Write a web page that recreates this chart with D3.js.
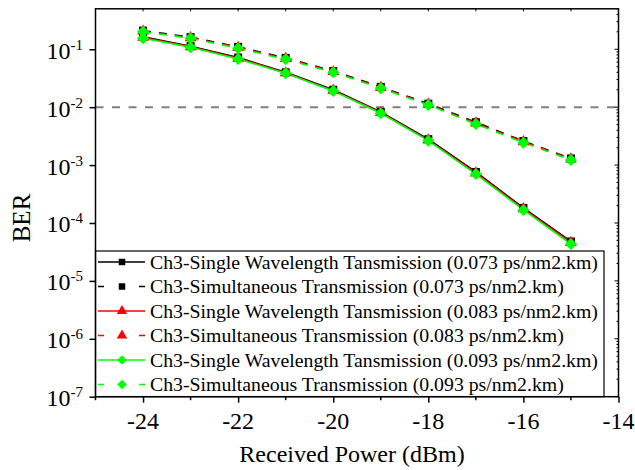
<!DOCTYPE html>
<html>
<head>
<meta charset="utf-8">
<script src="https://cdn.jsdelivr.net/npm/d3@7"></script>
<style>
  body { margin: 0; background: #fff; }
  svg { display: block; font-family: "Liberation Serif", "Times New Roman", serif; }
</style>
</head>
<body>
<script>
// received power (dBm)
var power = [-24, -23, -22, -21, -20, -19, -18, -17, -16, -15];

// BER, single wavelength transmission
var single073 = [0.165, 0.113, 0.072, 0.040, 0.020, 0.0083, 0.0028, 7.6e-4, 1.82e-4, 4.8e-5];
var single083 = [0.160, 0.110, 0.070, 0.039, 0.0195, 0.0081, 0.0027, 7.3e-4, 1.75e-4, 4.6e-5];
var single093 = [0.155, 0.108, 0.068, 0.0384, 0.019, 0.00785, 0.00264, 7.0e-4, 1.68e-4, 4.34e-5];

// BER, simultaneous transmission
var simul073 = [0.210, 0.162, 0.110, 0.071, 0.042, 0.0224, 0.0115, 0.0055, 0.0026, 0.0013];
var simul083 = [0.205, 0.158, 0.107, 0.069, 0.041, 0.0218, 0.0112, 0.0053, 0.00253, 0.00127];
var simul093 = [0.200, 0.155, 0.104, 0.067, 0.040, 0.0212, 0.0109, 0.0051, 0.00244, 0.00122];

var seriesNames = [
    "Ch3-Single Wavelength Tansmission (0.073 ps/nm2.km)",
    "Ch3-Simultaneous Transmission (0.073 ps/nm2.km)",
    "Ch3-Single Wavelength Tansmission (0.083 ps/nm2.km)",
    "Ch3-Simultaneous Transmission (0.083 ps/nm2.km)",
    "Ch3-Single Wavelength Tansmission (0.093 ps/nm2.km)",
    "Ch3-Simultaneous Transmission (0.093 ps/nm2.km)"
];
var xTicks = [-24, -22, -20, -18, -16, -14];
var yTicks = [-1, -2, -3, -4, -5, -6, -7]; // exponents
var threshold = 1e-2;

var series = [
    { name: seriesNames[0], values: single073, color: "#000000", dash: null, marker: "square" },
    { name: seriesNames[1], values: simul073, color: "#000000", dash: "8,8", marker: "square" },
    { name: seriesNames[2], values: single083, color: "#ff0000", dash: null, marker: "triangle" },
    { name: seriesNames[3], values: simul083, color: "#ff0000", dash: "8,8", marker: "triangle" },
    { name: seriesNames[4], values: single093, color: "#00ff00", dash: null, marker: "diamond" },
    { name: seriesNames[5], values: simul093, color: "#00ff00", dash: "8,8", marker: "diamond" }
];

var width = 635, height = 470;
var pLeft = 95.5, pRight = 618.5, pTop = 8.8, pBottom = 396.7;

var svg = d3.select("body").append("svg")
    .attr("width", width)
    .attr("height", height);

var x = d3.scaleLinear().domain([-25, -14]).range([pLeft, pRight]);
var y = d3.scaleLog().domain([1e-7, 0.5]).range([pBottom, pTop]);

// diamond = square turned 45deg
var symbolOf = {
    square: { gen: d3.symbol().type(d3.symbolSquare).size(64), rot: 0 },
    triangle: { gen: d3.symbol().type(d3.symbolTriangle).size(60), rot: 0 },
    diamond: { gen: d3.symbol().type(d3.symbolSquare).size(72), rot: 45 }
};
var legendSymbolOf = {
    square: { gen: d3.symbol().type(d3.symbolSquare).size(42), rot: 0 },
    triangle: { gen: d3.symbol().type(d3.symbolTriangle).size(48), rot: 0 },
    diamond: { gen: d3.symbol().type(d3.symbolSquare).size(45), rot: 45 }
};

// threshold line
svg.append("line")
    .attr("x1", pLeft).attr("x2", pRight)
    .attr("y1", y(threshold)).attr("y2", y(threshold))
    .attr("stroke", "#808080")
    .attr("stroke-width", 2)
    .attr("stroke-dasharray", "8,8.5");

// series
var line = d3.line()
    .x(function(d, i) { return x(power[i]); })
    .y(function(d) { return y(d); });

series.forEach(function(s) {
    svg.append("path")
        .datum(s.values)
        .attr("d", line)
        .attr("fill", "none")
        .attr("stroke", s.color)
        .attr("stroke-width", 1.6)
        .attr("stroke-dasharray", s.dash);
});
series.forEach(function(s) {
    var sym = symbolOf[s.marker];
    svg.append("g").selectAll("path")
        .data(s.values)
        .enter().append("path")
        .attr("d", sym.gen)
        .attr("transform", function(d, i) {
            return "translate(" + x(power[i]) + "," + y(d) + ") rotate(" + sym.rot + ")";
        })
        .attr("fill", s.color);
});

// legend
var legend = svg.append("g");
legend.append("rect")
    .attr("x", pLeft).attr("y", 251)
    .attr("width", 604 - pLeft).attr("height", pBottom - 251)
    .attr("fill", "#fff")
    .attr("stroke", "#000")
    .attr("stroke-width", 1.2);
series.forEach(function(s, i) {
    var ly = 262 + i * 24.5;
    var sym = legendSymbolOf[s.marker];
    legend.append("line")
        .attr("x1", 98).attr("x2", 145)
        .attr("y1", ly).attr("y2", ly)
        .attr("stroke", s.color)
        .attr("stroke-width", 1.6)
        .attr("stroke-dasharray", s.dash ? "6,35" : null);
    legend.append("path")
        .attr("d", sym.gen)
        .attr("transform", "translate(122," + ly + ") rotate(" + sym.rot + ")")
        .attr("fill", s.color);
    legend.append("text")
        .attr("x", 150).attr("y", ly + 6.5)
        .style("font-size", "19.8px")
        .attr("fill", "#000")
        .text(s.name);
});

// frame
svg.append("rect")
    .attr("x", pLeft).attr("y", pTop)
    .attr("width", pRight - pLeft).attr("height", pBottom - pTop)
    .attr("fill", "none")
    .attr("stroke", "#000")
    .attr("stroke-width", 1.5);

// bottom axis
var xAxis = svg.append("g")
    .attr("transform", "translate(0," + pBottom + ")");
xAxis.call(d3.axisBottom(x).tickValues(xTicks).tickSize(6).tickFormat(""));
xAxis.select(".domain").remove();
xAxis.selectAll(".tick line").attr("stroke-width", 1.5);
xAxis.append("g").selectAll("line")
    .data(d3.range(-25, -14, 2))
    .enter().append("line")
    .attr("x1", function(d) { return x(d); }).attr("x2", function(d) { return x(d); })
    .attr("y1", 0).attr("y2", 3.5)
    .attr("stroke", "#000").attr("stroke-width", 1.5);
svg.append("g").selectAll("text")
    .data(xTicks)
    .enter().append("text")
    .attr("x", function(d) { return x(d); })
    .attr("y", 429)
    .attr("text-anchor", "middle")
    .style("font-size", "24px")
    .text(function(d) { return "-" + Math.abs(d); });

// top axis, small inward ticks
svg.append("g").selectAll("line")
    .data(d3.range(-24, -14))
    .enter().append("line")
    .attr("x1", function(d) { return x(d); }).attr("x2", function(d) { return x(d); })
    .attr("y1", pTop).attr("y2", pTop + 2.5)
    .attr("stroke", "#000").attr("stroke-width", 1);

// left axis
var yAxis = svg.append("g")
    .attr("transform", "translate(" + pLeft + ",0)");
yAxis.call(d3.axisLeft(y).tickValues(yTicks.map(function(e) { return Math.pow(10, e); })).tickSize(6).tickFormat(""));
yAxis.select(".domain").remove();
yAxis.selectAll(".tick line").attr("stroke-width", 1.5);

var yLab = svg.append("g").selectAll("text")
    .data(yTicks)
    .enter().append("text")
    .attr("x", 83)
    .attr("y", function(e) { return y(Math.pow(10, e)) + 9.5; })
    .attr("text-anchor", "end")
    .style("font-size", "24px");
yLab.append("tspan").text("10");
yLab.append("tspan")
    .attr("dy", -9)
    .style("font-size", "15px")
    .text(function(e) { return "-" + Math.abs(e); });

// right axis, inward decade and minor ticks
var minor = [];
yTicks.forEach(function(e) {
    for (var m = 1; m < 10; m++) {
        var v = m * Math.pow(10, e);
        if (v <= 0.5) minor.push({ v: v, major: m === 1 });
    }
});
svg.append("g").selectAll("line")
    .data(minor)
    .enter().append("line")
    .attr("x1", pRight).attr("x2", function(d) { return pRight - (d.major ? 4 : 2); })
    .attr("y1", function(d) { return y(d.v); }).attr("y2", function(d) { return y(d.v); })
    .attr("stroke", "#000").attr("stroke-width", 1);

// axis titles
svg.append("text")
    .attr("x", 352).attr("y", 462)
    .attr("text-anchor", "middle")
    .style("font-size", "24px")
    .text("Received Power (dBm)");
svg.append("text")
    .attr("transform", "translate(30,218) rotate(-90)")
    .attr("text-anchor", "middle")
    .style("font-size", "25px")
    .text("BER");
</script>
</body>
</html>
